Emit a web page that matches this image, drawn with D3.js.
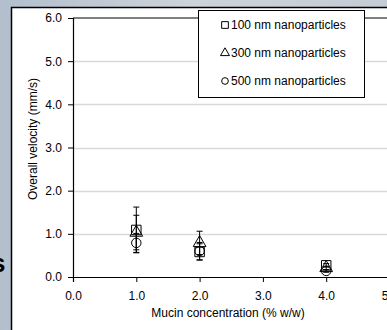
<!DOCTYPE html>
<html>
<head>
<meta charset="utf-8">
<script src="https://cdn.jsdelivr.net/npm/d3@7"></script>
<style>
  body { margin: 0; background: #c3cbd5; }
  svg { display: block; }
  text { font-family: Arial, "Liberation Sans", sans-serif; }
</style>
</head>
<body>
<svg id="chart" width="387" height="330"></svg>
<script>
// mucin concentration (% w/w)
var conc = [1.0, 2.0, 4.0];

// overall velocity (mm/s) and error, per particle size
var v100 = [1.09, 0.58, 0.27];
var e100 = [0.53, 0.19, 0.04];
var v300 = [1.03, 0.79, 0.21];
var e300 = [0.40, 0.27, 0.04];
var v500 = [0.79, 0.60, 0.14];
var e500 = [0.22, 0.20, 0.03];

var seriesNames = ['100 nm nanoparticles', '300 nm nanoparticles', '500 nm nanoparticles'];
var xTicks = [0, 1, 2, 3, 4, 5];
var yTicks = [0, 1, 2, 3, 4, 5, 6];

var width = 387, height = 330;
var svg = d3.select('#chart');

// slide background behind the chart panel
var defs = svg.append('defs');
var grad = defs.append('linearGradient').attr('id', 'bg').attr('x1', 0).attr('y1', 0).attr('x2', 1).attr('y2', 0);
grad.append('stop').attr('offset', '0%').attr('stop-color', '#b3bfcd');
grad.append('stop').attr('offset', '50%').attr('stop-color', '#cdd3da');
grad.append('stop').attr('offset', '100%').attr('stop-color', '#c4ccd5');
svg.append('rect').attr('width', width).attr('height', height).attr('fill', 'url(#bg)');

// stray letter from the slide
svg.append('text').attr('x', -9).attr('y', 272)
  .style('font-size', '26px').style('font-weight', 'bold').attr('fill', '#000').text('s');

// white chart panel
svg.append('rect').attr('x', 11).attr('y', 7).attr('width', 400).attr('height', 340)
  .attr('fill', '#fff');
svg.append('path').attr('d', 'M11.5,' + height + 'V7.5H' + width)
  .attr('fill', 'none').attr('stroke', '#000').attr('stroke-width', 1.5);

var x = d3.scaleLinear().domain([0, 5]).range([73, 389.5]);
var y = d3.scaleLinear().domain([0, 6]).range([277, 18]);

// gridlines
svg.append('g').selectAll('line').data(yTicks.filter(d => d > 0 && d < 6)).join('line')
  .attr('x1', x(0)).attr('x2', x(5))
  .attr('y1', d => Math.round(y(d)) + 0.5).attr('y2', d => Math.round(y(d)) + 0.5)
  .attr('stroke', '#d9d9d9').attr('stroke-width', 1.5);

// top border of plot area
svg.append('line').attr('x1', x(0)).attr('x2', x(5)).attr('y1', y(6)).attr('y2', y(6))
  .attr('stroke', '#000').attr('stroke-width', 1.2);

var fmt = d3.format('.1f');

var yAxis = svg.append('g').attr('transform', 'translate(' + x(0) + ',0)')
  .call(d3.axisLeft(y).tickValues(yTicks).tickFormat(fmt).tickSize(5).tickPadding(6));
var xAxis = svg.append('g').attr('transform', 'translate(0,' + y(0) + ')')
  .call(d3.axisBottom(x).tickValues(xTicks).tickFormat(fmt).tickSize(5).tickPadding(9));

[xAxis, yAxis].forEach(function (g) {
  g.select('.domain').attr('stroke', '#000').attr('stroke-width', 1.2);
  g.selectAll('.tick line').attr('stroke', '#000');
  g.selectAll('.tick text').attr('fill', '#000')
    .style('font-family', 'Arial, "Liberation Sans", sans-serif').style('font-size', '12px');
});

// axis titles
svg.append('text').attr('transform', 'translate(37,139) rotate(-90)')
  .attr('text-anchor', 'middle').style('font-size', '12px').text('Overall velocity (mm/s)');
svg.append('text').attr('x', 228).attr('y', 317)
  .attr('text-anchor', 'middle').style('font-size', '12px').text('Mucin concentration (% w/w)');

var shapes = [d3.symbolSquare, d3.symbolTriangle, d3.symbolCircle];
var sizes = [90, 70, 70];
var series = [
  { v: v100, e: e100 },
  { v: v300, e: e300 },
  { v: v500, e: e500 }
];

var marks = svg.append('g');
series.forEach(function (s, i) {
  var pts = conc.map((c, j) => ({ c: c, v: s.v[j], e: s.e[j] }));
  var g = marks.append('g');
  // error bars
  g.selectAll('line.bar').data(pts).join('line').attr('class', 'bar')
    .attr('x1', d => x(d.c)).attr('x2', d => x(d.c))
    .attr('y1', d => y(d.v - d.e)).attr('y2', d => y(d.v + d.e))
    .attr('stroke', '#000').attr('stroke-width', 1);
  [1, -1].forEach(function (sgn) {
    g.selectAll('line.cap' + (sgn > 0 ? 'u' : 'd')).data(pts).join('line')
      .attr('class', 'cap' + (sgn > 0 ? 'u' : 'd'))
      .attr('x1', d => x(d.c) - 3).attr('x2', d => x(d.c) + 3)
      .attr('y1', d => y(d.v + sgn * d.e)).attr('y2', d => y(d.v + sgn * d.e))
      .attr('stroke', '#000').attr('stroke-width', 1);
  });
});
series.forEach(function (s, i) {
  var sym = d3.symbol().type(shapes[i]).size(sizes[i]);
  marks.append('g').selectAll('path').data(conc.map((c, j) => ({ c: c, v: s.v[j] }))).join('path')
    .attr('d', sym)
    .attr('transform', d => 'translate(' + x(d.c) + ',' + y(d.v) + ')')
    .attr('fill', 'none').attr('stroke', '#000').attr('stroke-width', 1);
});

// legend
var legend = svg.append('g');
legend.append('rect').attr('x', 198.5).attr('y', 10.5).attr('width', 166).attr('height', 87)
  .attr('fill', '#fff').attr('stroke', '#000').attr('stroke-width', 1);
var rowY = [25, 53, 81];
seriesNames.forEach(function (name, i) {
  legend.append('path')
    .attr('d', d3.symbol().type(shapes[i]).size(sizes[i] * 0.5)())
    .attr('transform', 'translate(225,' + rowY[i] + ')')
    .attr('fill', 'none').attr('stroke', '#000').attr('stroke-width', 1);
  legend.append('text').attr('x', 231).attr('y', rowY[i] + 4)
    .style('font-size', '12px').text(name);
});
</script>
</body>
</html>
